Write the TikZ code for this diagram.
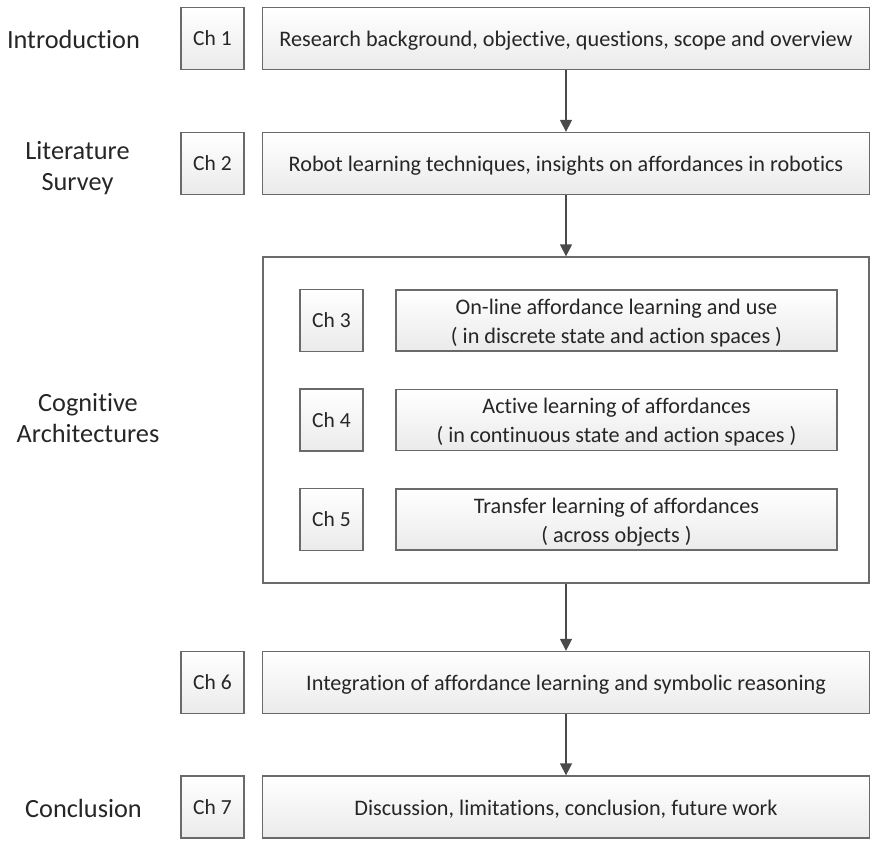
\documentclass[tikz,border=0pt]{standalone}
\usepackage{fontspec}
\setmainfont{Carlito}[Ligatures=NoCommon]
\usetikzlibrary{arrows.meta}
\definecolor{edge}{HTML}{6A6A6A}
\definecolor{ink}{HTML}{262626}
\definecolor{arrowc}{HTML}{4A4A4A}
\begin{document}
\begin{tikzpicture}[x=1pt,y=-1pt,
  every node/.style={text=ink, inner sep=0pt},
  shaded/.style={draw=edge, line width=1.3pt, top color=white, bottom color=black!8},
  chbox/.style={shaded, font=\fontsize{21.5}{29}\selectfont,
    minimum width=63pt, minimum height=62pt},
  wide/.style={shaded, minimum width=607pt, minimum height=62pt},
  inner/.style={shaded, minimum width=441pt, minimum height=61pt},
  boxtext/.style={font=\fontsize{22.2}{29}\selectfont, align=center, yshift=-2.5pt},
  sidelabel/.style={font=\fontsize{26.3}{31}\selectfont, align=center},
  flow/.style={draw=arrowc, line width=1.3pt, -{Triangle[length=12pt,width=12pt]}}]
\useasboundingbox (0,0) rectangle (872,844);

% side labels
\node[sidelabel] (lintro) at (73.5,39) {Introduction};
\node[sidelabel] (llit) at (77.5,168) {Literature\\Survey};
\node[sidelabel] (lcog) at (88,418) {Cognitive\\Architectures};
\node[sidelabel] (lconc) at (83.5,808) {Conclusion};

% chapters 1 and 2
\node[chbox] (ch1) at (212.5,38.5) {Ch 1};
\node[wide] (b1) at (566,38.5) {};
\node[boxtext] (t1) at (b1) {Research background, objective, questions, scope and overview};
\node[chbox] (ch2) at (212.5,163.5) {Ch 2};
\node[wide] (b2) at (566,163.5) {};
\node[boxtext] (t2) at (b2) {Robot learning techniques, insights on affordances in robotics};

% container for chapters 3-5
\node[draw=edge, line width=1.3pt, fill=white, minimum width=606pt, minimum height=326pt] (cog) at (566,420) {};

\node[chbox] (ch3) at (331.5,320.5) {Ch 3};
\node[inner] (b3) at (616.5,320.5) {};
\node[boxtext] (t3) at (b3) {On-line affordance learning and use\\( in discrete state and action spaces )};
\node[chbox] (ch4) at (331.5,420) {Ch 4};
\node[inner] (b4) at (616.5,420) {};
\node[boxtext] (t4) at (b4) {Active learning of affordances\\( in continuous state and action spaces )};
\node[chbox] (ch5) at (331.5,519.5) {Ch 5};
\node[inner] (b5) at (616.5,519.5) {};
\node[boxtext] (t5) at (b5) {Transfer learning of affordances\\( across objects )};

% chapters 6 and 7
\node[chbox] (ch6) at (212.5,682.5) {Ch 6};
\node[wide] (b6) at (566,682.5) {};
\node[boxtext] (t6) at (b6) {Integration of affordance learning and symbolic reasoning};
\node[chbox] (ch7) at (212.5,807) {Ch 7};
\node[wide] (b7) at (566,807) {};
\node[boxtext] (t7) at (b7) {Discussion, limitations, conclusion, future work};

% flow arrows
\draw[flow] (b1.south) -- (b2.north);
\draw[flow] (b2.south) -- (cog.north);
\draw[flow] (cog.south) -- (b6.north);
\draw[flow] (b6.south) -- (b7.north);
\end{tikzpicture}
\end{document}
